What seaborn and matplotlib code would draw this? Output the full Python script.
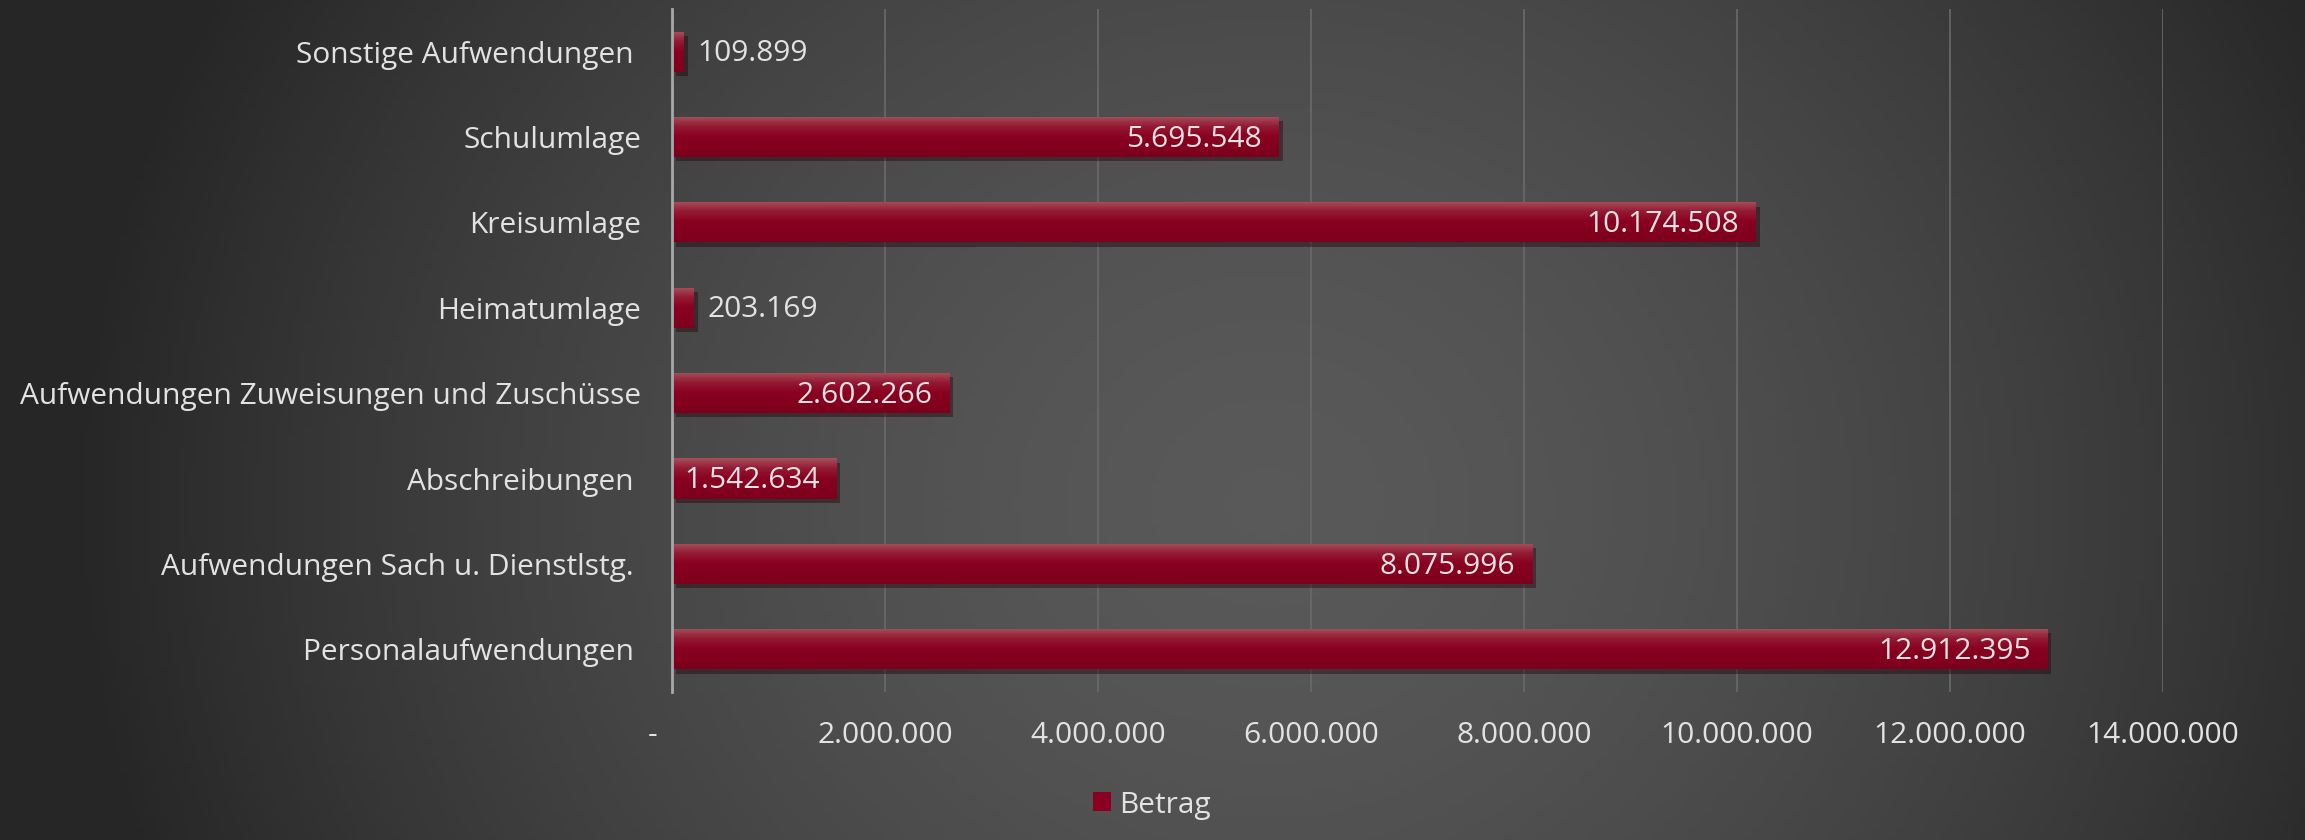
import numpy as np
import pandas as pd
import matplotlib as mpl
import matplotlib.pyplot as plt
import matplotlib.patheffects as pe
from matplotlib.colors import LinearSegmentedColormap
from matplotlib.patches import Patch
from matplotlib.ticker import FuncFormatter
import seaborn as sns

sns.set_style("white")
plt.rcParams["font.family"] = ["Open Sans", "DejaVu Sans"]

categories = ["Sonstige Aufwendungen ", "Schulumlage", "Kreisumlage", "Heimatumlage",
              "Aufwendungen Zuweisungen und Zuschüsse", "Abschreibungen ",
              "Aufwendungen Sach u. Dienstlstg. ", "Personalaufwendungen "]
betrag = [109899, 5695548, 10174508, 203169, 2602266, 1542634, 8075996, 12912395]
xticks = [0, 2000000, 4000000, 6000000, 8000000, 10000000, 12000000, 14000000]

df = pd.DataFrame({"Posten": categories, "Betrag": betrag})

txt = "#e2e2e2"
fs = 21.5


def de_fmt(v, pos=None):
    if v == 0:
        return "-     "  # accounting style dash, sits left of zero
    return f"{v:,.0f}".replace(",", ".")


fig = plt.figure(figsize=(23.05, 8.4), dpi=100)
fig.patch.set_facecolor("#333333")

# background radial gradient
bg = fig.add_axes([0, 0, 1, 1], zorder=-5)
xx, yy = np.meshgrid(np.linspace(0, 1, 400), np.linspace(0, 1, 200))
d = np.sqrt(((xx - 0.55) / 0.52) ** 2 + ((yy - 0.6) / 1.3) ** 2)
d = np.clip(d, 0, 1) ** 1.6
bg_cmap = LinearSegmentedColormap.from_list("bg", ["#595959", "#262626"])
bg.imshow(d, cmap=bg_cmap, vmin=0, vmax=1, aspect="auto", extent=(0, 1, 0, 1), origin="upper")
bg.axis("off")

ax = fig.add_axes([0.2915, 0.1762, 0.6469, 0.8131])
ax.set_facecolor("none")

sns.barplot(data=df, x="Betrag", y="Posten", orient="h", color="#8a0021",
            width=0.47, linewidth=0, edgecolor="none", ax=ax, zorder=3)

ax.set_xlim(0, 14000000)
ylim = ax.get_ylim()

bar_cmap = LinearSegmentedColormap.from_list(
    "bar", [(0, "#a8505c"), (0.25, "#931a33"), (0.5, "#8a0021"), (1, "#7c001b")])
grad = np.linspace(0, 1, 100).reshape(-1, 1)
for p in ax.patches:
    p.set_path_effects([pe.SimplePatchShadow(offset=(3, -3), alpha=0.45), pe.Normal()])
    x0, y0, w, h = p.get_x(), p.get_y(), p.get_width(), p.get_height()
    im = ax.imshow(grad, cmap=bar_cmap, aspect="auto", origin="upper",
                   extent=(x0, x0 + w, y0 + h, y0), zorder=4)
    im.set_clip_path(p)

ax.set_xlim(0, 14000000)
ax.set_ylim(ylim)

# data labels
for i, v in enumerate(betrag):
    if v > 1000000:
        ax.annotate(de_fmt(v), (v, i), xytext=(-12, -1.5), textcoords="offset points",
                    ha="right", va="center", color=txt, fontsize=fs, zorder=6)
    else:
        ax.annotate(de_fmt(v), (v, i), xytext=(10, -1.5), textcoords="offset points",
                    ha="left", va="center", color=txt, fontsize=fs, zorder=6)

ax.set_xticks(xticks)
ax.xaxis.set_major_formatter(FuncFormatter(de_fmt))
ax.grid(axis="x", color="#6a6a6a", linewidth=1.2, zorder=0)
ax.set_axisbelow(True)
ax.tick_params(axis="x", length=0, pad=21, labelsize=fs, labelcolor=txt)
ax.tick_params(axis="y", length=0, pad=22, labelsize=fs, labelcolor=txt)
ax.set_xlabel("")
ax.set_ylabel("")
for s in ["top", "right", "bottom"]:
    ax.spines[s].set_visible(False)
ax.spines["left"].set_color("#a8a8a8")
ax.spines["left"].set_linewidth(2)
ax.spines["left"].set_zorder(5)

fig.legend(handles=[Patch(facecolor="#8a0021", edgecolor="none", label="Betrag")],
           loc="center", bbox_to_anchor=(1152 / 2305, 1 - 805 / 840), frameon=False,
           fontsize=fs, labelcolor=txt, handlelength=0.6, handleheight=0.6,
           handletextpad=0.3)

fig.savefig("out.png", dpi=100, facecolor=fig.get_facecolor())
